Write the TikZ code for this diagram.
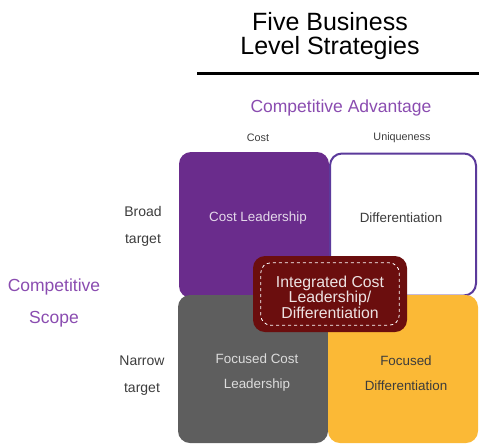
\documentclass[tikz,border=0pt]{standalone}
\usepackage{fontspec}
\setmainfont{Liberation Sans}
\usepackage{tikz}
\usetikzlibrary{calc}

\definecolor{cpurple}{HTML}{6A2C8C}
\definecolor{cborder}{HTML}{5B3A9B}
\definecolor{cgray}{HTML}{5E5E5E}
\definecolor{cgold}{HTML}{FBB936}
\definecolor{cred}{HTML}{6B0E0E}
\definecolor{ctext}{HTML}{8A4CB0}
\definecolor{cdark}{HTML}{3C3C3C}

\begin{document}
\begin{tikzpicture}[
	x=1pt, y=-1pt, % one unit per pixel, y downwards
	cell/.style={rectangle, rounded corners=12pt, minimum width=150pt,
		minimum height=146pt, inner sep=0pt},
	celltext/.style={align=center, font=\fontsize{13.4}{25}\selectfont},
	axis/.style={text=ctext, align=center, font=\fontsize{17.5}{32}\selectfont},
	tag/.style={text=cdark, align=center, font=\fontsize{14}{27}\selectfont},
	small/.style={text=cdark, font=\fontsize{10.8}{12}\selectfont}
]
\useasboundingbox (0,0) rectangle (479,445);

% title
\node[align=center, font=\fontsize{25}{24}\selectfont, text=black] (title) at (330,36) {Five Business\\Level Strategies};
\draw[line width=3pt] (197,73) coordinate (ruleL) -- (479,73) coordinate (ruleR);

% axes
\node[axis] (adv) at (341,108) {Competitive Advantage};
\node[small] (cost) at (258,138) {Cost};
\node[small] (uniq) at (402,138) {Uniqueness};
\node[axis] (scope) at (54,303) {Competitive\\Scope};
\node[tag] (broad) at (143,226) {Broad\\target};
\node[tag] (narrow) at (142,376) {Narrow\\target};

% the four cells
\node[cell, fill=cpurple] (CL) at (254,225) {};
\node[cell, fill=white, draw=cborder, line width=2pt, minimum width=146pt,
	minimum height=142pt] (DI) at (403,224.5) {};
\node[cell, fill=cgray, minimum height=148pt] (FC) at (253,369) {};
\node[cell, fill=cgold, minimum height=148pt] (FD) at (403,369) {};

\node[celltext, text=white!82!cpurple] (CLt) at ($(CL)+(4,-7)$) {Cost Leadership};
\node[celltext, text=cdark] (DIt) at ($(DI)+(-2,-6.5)$) {Differentiation};
\node[celltext, text=white!78!cgray] (FCt) at ($(FC)+(4,4)$) {Focused Cost\\Leadership};
\node[celltext, text=cdark] (FDt) at ($(FD)+(3,4)$) {Focused\\Differentiation};

% integrated strategy in the middle
\node[rectangle, rounded corners=12pt, fill=cred, minimum width=154pt, minimum height=76pt] (IN) at (330,294) {};
\draw[white, dashed, line width=0.8pt, rounded corners=10pt]
	($(IN.south west)+(8,-7)$) rectangle ($(IN.north east)+(-8,7)$);
\node[text=white!88!cred, align=center, font=\fontsize{15.8}{15.5}\selectfont] (INt) at (330,297) {Integrated Cost\\Leadership/\\Differentiation};
\end{tikzpicture}
\end{document}
